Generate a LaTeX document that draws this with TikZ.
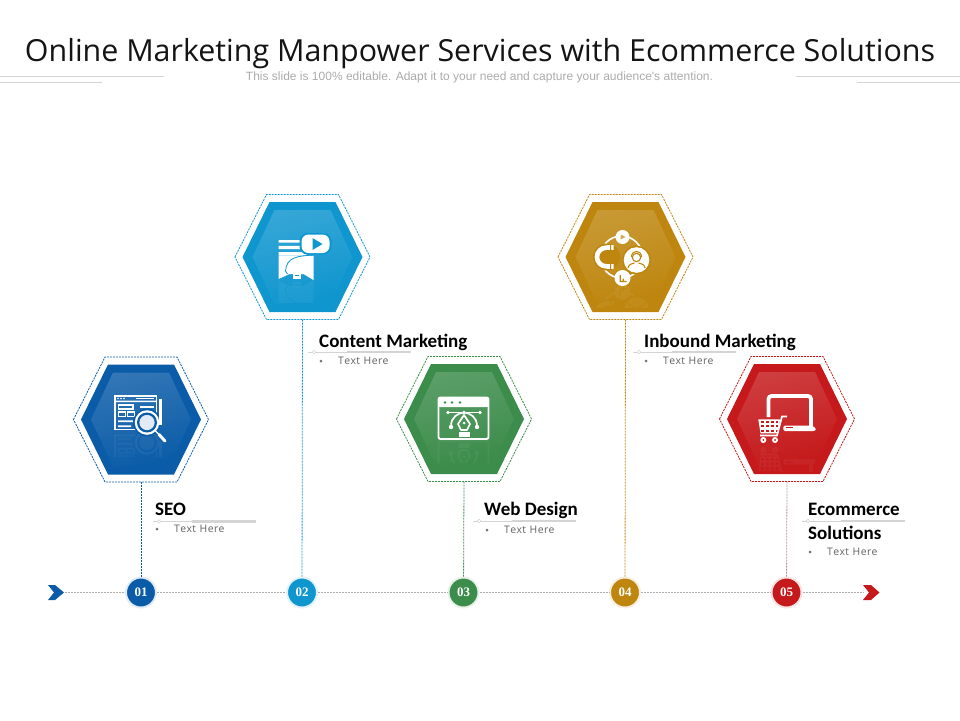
\documentclass[tikz,border=0pt]{standalone}
\usepackage{fontspec}
\setmainfont{Carlito}
\newfontfamily\titlefont{Open Sans}
\newfontfamily\subfont{Liberation Sans}
\newfontfamily\numfont{Liberation Serif}
\usetikzlibrary{fadings}
\definecolor{seoblue}{HTML}{0B5CA8}
\definecolor{contentblue}{HTML}{0F96CF}
\definecolor{webgreen}{HTML}{3C8C4B}
\definecolor{inboundgold}{HTML}{BE860E}
\definecolor{ecomred}{HTML}{C5191B}
\definecolor{rulegray}{HTML}{D4D4D4}
\tikzfading[name=hexfade, top color=transparent!84, middle color=transparent!98, bottom color=transparent!100]
\tikzset{
    head/.style={font=\fontsize{19}{23.6}\selectfont\bfseries, text=black, inner sep=0pt, anchor=base west, align=left},
    body/.style={font=\titlefont\fontsize{10.4}{12}\selectfont, text=black!62, inner sep=0pt, anchor=west},
    bulletmark/.style={circle, fill=black!55, inner sep=0pt, minimum size=3pt},
    numdot/.style={circle, minimum size=30pt, inner sep=0pt, font=\numfont\bfseries\fontsize{13}{13}\selectfont, text=white},
    stem/.style={line width=0.8pt, dash pattern=on 2pt off 1pt},
    track/.style={line width=0.6pt, black!32, dash pattern=on 2pt off 1pt},
    titlerule/.style={line width=0.7pt, rulegray},
}
\begin{document}
\begin{tikzpicture}[x=1pt,y=-1pt]
\useasboundingbox (0,0) rectangle (960,720);
% Variables: 1 := position, 2 := ID, 3 := colour.
\def\hexstage(#1)#2#3{
    \begin{scope}[shift={(#1)}]
        \draw[#3, line width=0.8pt, dash pattern=on 2pt off 1pt] (-67.5,0) -- (-36,-62.5) -- (36,-62.5) -- (67.5,0) -- (36,62.5) -- (-36,62.5) -- cycle;
        \fill[#3] (-60,0) -- (-33,-55) -- (33,-55) -- (60,0) -- (33,55) -- (-33,55) -- cycle;
        \fill[white, path fading=hexfade, fading angle=15] (-50,0) -- (-28,-47) -- (28,-47) -- (50,0) -- (28,47) -- (-28,47) -- cycle;
        \coordinate (#2 bottom) at (0,62.5);
    \end{scope}
}
% Variables: 1 := position of left end, 2 := ID.
\def\labelrule(#1)#2{
    \begin{scope}[shift={(#1)}]
        \draw[line width=0.6pt, rulegray] (0,0) -- (39,0);
        \draw[line width=2.6pt, rulegray] (39,0) -- (103,0);
        \node[circle, draw=rulegray, fill=white, line width=0.5pt, inner sep=0pt, minimum size=3.5pt] (#2 rule) at (6,0) {};
    \end{scope}
}
% Variables: 1 := position of bullet, 2 := ID.
\def\bodyline(#1)#2{
    \begin{scope}[shift={(#1)}]
        \node[bulletmark] (#2 bullet) at (0,0) {};
        \node[body] (#2 body) at (17,0) {T\kern.4pt e\kern.4pt x\kern.4pt t\kern.9pt\ H\kern.4pt e\kern.4pt r\kern.4pt e};
    \end{scope}
}
% icons, 1 := colour of the cut-outs
\def\seoicon#1{
    \draw[white, line width=1.9pt] (-26,-23.5) rectangle (15.5,10);
    \fill[white] (-26,-24) rectangle (15.5,-23) (-26,-19) rectangle (15.5,-17.4);
    \foreach \px in {-23,-20,-17} {\fill[white] (\px,-21) circle (0.9);}
    \fill[white] (-5,-22) rectangle (13,-20.2);
    \draw[white, line width=1.3pt] (-22.5,-14.5) rectangle (-8,-10.5);
    \fill[white] (-1,-13.4) rectangle (13,-11.5);
    \draw[white, line width=1.3pt] (-22.5,-7.5) rectangle (-15.5,-3) (-13.5,-7.5) rectangle (-6.5,-3);
    \fill[white] (-23,0.8) rectangle (-8,2.6) (-23,5.8) rectangle (-10,7.6);
    \fill[#1] (6,3) circle (14);
    \fill[white] (6,3) circle (12.3);
    \fill[#1] (6,3) circle (10);
    \fill[#1!12!white] (6,3) circle (7.6);
    \draw[white, line width=1.4pt] (14.5,11.5) -- (18,15);
    \draw[white, line width=3pt, line cap=round] (18,15) -- (24,21.5);
    \draw[white, line width=2.6pt] (19.5,-21) -- (19.5,5);
}
\def\contenticon#1{
    \fill[white] (-24,-17) rectangle (1,-14.3) (-24,-11.2) rectangle (1,-7.8) (-24,-5) rectangle (4,-1.5);
    \fill[white] (-24,-1.5) -- (11,-1.5) -- (11,23) -- (1,17) -- (-13,17) -- (-24,22) -- cycle;
    \draw[#1, line width=0.8pt] (11,-2) .. controls (-5,-1) and (-16,0) .. (-17,14);
    \draw[#1, line width=0.8pt] (-17,14) -- (-15,17);
    \fill[white] (-10,16) rectangle (-2,21.5);
    \fill[#1] (-8,18) rectangle (-4,19);
    \fill[#1, rounded corners=8pt] (-3,-24) rectangle (29,-2.5);
    \fill[white, rounded corners=7pt] (-1,-22.5) rectangle (27,-4);
    \fill[#1] (10,-19) -- (20,-13) -- (10,-7) -- cycle;
}
\def\webicon#1{
    \draw[white, line width=1.9pt, rounded corners=2pt] (-25.5,-21.5) rectangle (24.5,20);
    \fill[white, rounded corners=2pt] (-25.5,-21.5) rectangle (24.5,-12);
    \fill[white] (-25.5,-15) rectangle (24.5,-12);
    \foreach \px in {-19,-12,-4} {\fill[#1] (\px,-16.5) circle (1.3);}
    \draw[white, line width=1.3pt] (-16,-6.5) -- (16,-6.5);
    \foreach \px in {-16,0,16} {\fill[white] (\px,-6.5) circle (1.8);}
    \draw[white, line width=1.7pt] (-13,7) .. controls (-13,-2) and (-6,-6) .. (0,-6.5) .. controls (6,-6) and (13,-2) .. (13,7);
    \fill[white] (-13,8) circle (2.2) (13,8) circle (2.2);
    \draw[white, line width=1.7pt, line join=round] (0,-4) -- (-6,5) -- (-3,11) -- (3,11) -- (6,5) -- cycle;
    \fill[white] (0,4) circle (1.5);
    \fill[white] (-5.5,13) rectangle (5.5,18);
}
\def\inboundicon#1{
    \draw[white, line width=1.6pt] (-4,0) circle (21);
    \fill[#1] (-19,0) circle (13.5);
    \fill[white] (-3,-20) circle (7);
    \fill[#1!70!white] (-5,-22.5) -- (0,-20) -- (-5,-17.5) -- cycle;
    \fill[white] (-3,21) circle (8);
    \fill[#1] (-6,18) rectangle (-4.6,25) (-3,21.5) rectangle (-1.6,25) (-6,23.8) rectangle (1,25);
    \fill[#1] (11,3) circle (14.2);
    \fill[white] (11,3) circle (12.8);
    \draw[#1, line width=1.1pt] (11,0.5) circle (4.2);
    \draw[#1, line width=1.1pt] (6,0) .. controls (6,-7.5) and (16,-7.5) .. (16,0);
    \draw[#1, line width=1.1pt] (2.5,11) .. controls (3,7) and (7,6.5) .. (9,6) (19.5,11) .. controls (19,7) and (15,6.5) .. (13,6);
    \draw[white, line width=4.6pt] (-12,-9.5) -- (-18,-9.5) .. controls (-32,-9.5) and (-32,9.5) .. (-18,9.5) -- (-12,9.5);
    \fill[#1] (-15.5,-12.5) rectangle (-14.5,-6.5) (-15.5,6.5) rectangle (-14.5,12.5);
}
\def\ecomicon#1{
    \draw[white, line width=3.8pt, rounded corners=3pt] (-18.5,-2) -- (-18.5,-23) -- (24,-23) -- (24,7);
    \fill[white, rounded corners=1.5pt] (-3.7,6.5) -- (25,6.5) -- (29.5,10) -- (28,12) -- (-3.7,12) -- cycle;
    \fill[#1] (-1,8) rectangle (6,9.4);
    \fill[white] (-28.7,0.3) -- (-7,0.3) -- (-9,14.3) -- (-26.5,14.3) -- cycle;
    \foreach \px in {-26,-21,-16,-11.5} {
        \foreach \py in {1.5,6,10.5} {\fill[#1] (\px,\py) rectangle +(2.6,2.4);}
    }
    \draw[white, line width=1.7pt] (0,-2.5) -- (-5,-2.5) -- (-10,16.5) -- (-27,16.5);
    \fill[white] (-23.7,21) circle (3) (-12,21) circle (3);
    \fill[#1] (-23.7,21) circle (1) (-12,21) circle (1);
}
% Variables: 1 := position, 2 := icon macro, 3 := colour, 4 := mirror line, 5 := faded depth.
\def\iconmirror(#1)#2#3#4#5{
    \begin{scope}[shift={(#1)}]
        \clip (-40,#4) rectangle (40,#4+#5);
        \begin{scope}[shift={(0,2*#4)}, yscale=-1, opacity=0.05, transparency group]
            #2{#3}
        \end{scope}
    \end{scope}
}

\draw[titlerule] (0,76.5) -- (164,76.5);
\draw[titlerule] (0,82) -- (102,82);
\draw[titlerule] (796,76.5) -- (960,76.5);
\draw[titlerule] (857,82) -- (960,82);
\node[font=\titlefont\fontsize{30.4}{34}\selectfont, text=black!92, inner sep=0pt] (title) at (480,53.5) {Online Marketing Manpower Services with Ecommerce Solutions};
\node[font=\subfont\fontsize{12}{14}\selectfont, text=black!33, inner sep=0pt] (subtitle) at (479.5,77) {This slide is 100\% editable. Adapt it to your need and capture your audience's attention.};

\hexstage(141,419.5){seo}{seoblue}
\hexstage(302.5,257){content}{contentblue}
\hexstage(464,419){web}{webgreen}
\hexstage(625.5,257){inbound}{inboundgold}
\hexstage(787,419){ecom}{ecomred}

\iconmirror(141,419.5){\seoicon}{seoblue}{13}{24}
\iconmirror(302.5,257){\contenticon}{contentblue}{23}{22}
\iconmirror(464,419){\webicon}{webgreen}{21}{22}
\iconmirror(625.5,257){\inboundicon}{inboundgold}{28}{22}
\iconmirror(787,419){\ecomicon}{ecomred}{26}{26}
\begin{scope}[shift={(141,419.5)}] \seoicon{seoblue} \end{scope}
\begin{scope}[shift={(302.5,257)}] \contenticon{contentblue} \end{scope}
\begin{scope}[shift={(464,419)}] \webicon{webgreen} \end{scope}
\begin{scope}[shift={(625.5,257)}] \inboundicon{inboundgold} \end{scope}
\begin{scope}[shift={(787,419)}] \ecomicon{ecomred} \end{scope}

\node[numdot, fill=seoblue, draw=seoblue!12, line width=2pt] (num1) at (141,592.5) {01};
\node[numdot, fill=contentblue, draw=contentblue!12, line width=2pt] (num2) at (302,592.5) {02};
\node[numdot, fill=webgreen, draw=webgreen!12, line width=2pt] (num3) at (463.5,592.5) {03};
\node[numdot, fill=inboundgold, draw=inboundgold!12, line width=2pt] (num4) at (625,592.5) {04};
\node[numdot, fill=ecomred, draw=ecomred!12, line width=2pt] (num5) at (786.5,592.5) {05};

\coordinate (trackstart) at (65,592.5);
\coordinate (trackend) at (864,592.5);
\draw[track] (trackstart) -- (num1);
\foreach \a/\b in {1/2,2/3,3/4,4/5} {\draw[track] (num\a) -- (num\b);}
\draw[track] (num5) -- (trackend);
\fill[seoblue] (48,585) -- (55,585) -- (64,592.5) -- (55,600) -- (48,600) -- (54,592.5) -- cycle;
\fill[ecomred] (863,585) -- (871,585) -- (879.5,592.5) -- (871,600) -- (863,600) -- (869,592.5) -- cycle;

\draw[stem, seoblue] (seo bottom) -- (num1);
\draw[stem, contentblue] (content bottom) -- (num2);
\draw[stem, webgreen] (web bottom) -- (num3);
\draw[stem, inboundgold] (inbound bottom) -- (num4);
\draw[stem, ecomred!35!black!45] (ecom bottom) -- (num5);

\labelrule(153,521.5){seo}
\labelrule(308,352){content}
\labelrule(473,521){web}
\labelrule(633,352){inbound}
\labelrule(802,521){ecom}

\node[head] (seo head) at (155,515) {SEO};
\node[head] (content head) at (319,347.5) {Content Marketing};
\node[head] (web head) at (484,515.5) {Web Design};
\node[head] (inbound head) at (644,347.5) {Inbound Marketing};
\node[head] (ecom head) at (808,539.2) {Ecommerce\\Solutions};

\bodyline(157,529){seo}
\bodyline(321,361){content}
\bodyline(487,530){web}
\bodyline(646,361){inbound}
\bodyline(810,552){ecom}
\end{tikzpicture}
\end{document}
